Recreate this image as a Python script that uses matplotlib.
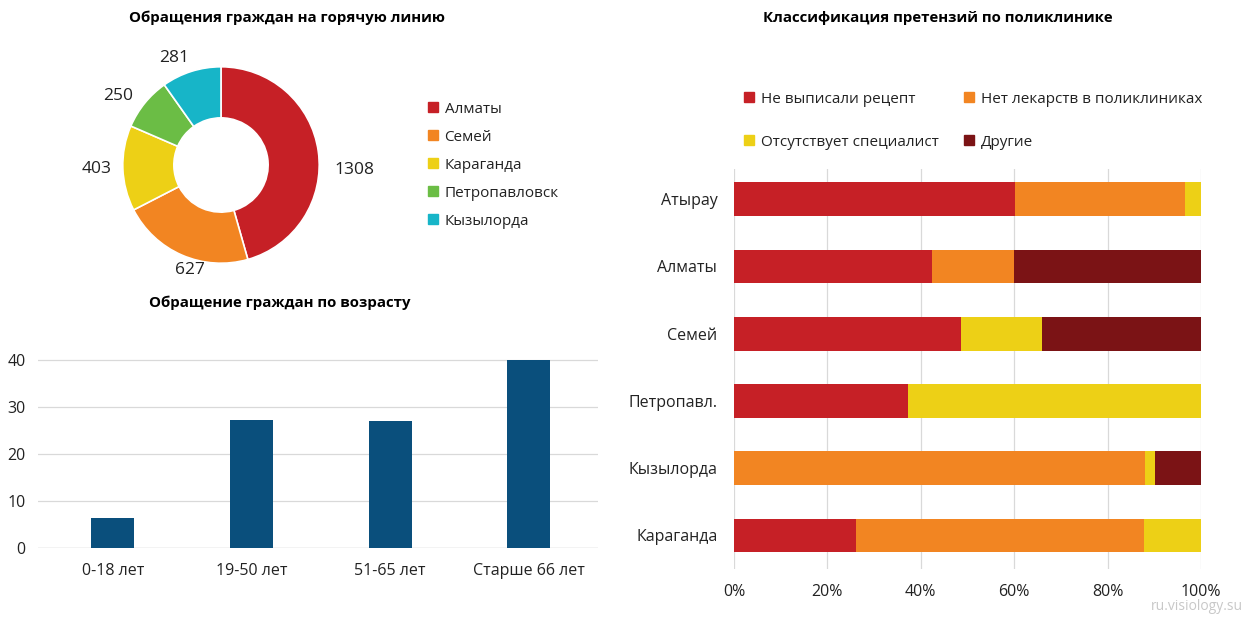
import numpy as np
import matplotlib
matplotlib.use("Agg")
import matplotlib.pyplot as plt
from matplotlib.patches import Patch

plt.rcParams['font.family'] = ['Open Sans', 'DejaVu Sans']

# donut: calls to the hot line
cities = ['Алматы', 'Семей', 'Караганда', 'Петропавловск', 'Кызылорда']
calls = [1308, 627, 403, 250, 281]
city_colors = ['#C62026', '#F28522', '#EDD016', '#6BBD45', '#17B5C8']

# bars: calls by age
ages = ['0-18 лет', '19-50 лет', '51-65 лет', 'Старше 66 лет']
age_values = [6.3, 27.2, 26.9, 40.0]

# stacked: complaint classification (percent)
clinics = ['Атырау', 'Алматы', 'Семей', 'Петропавл.', 'Кызылорда', 'Караганда']
no_recipe = [60.2, 42.4, 48.7, 37.3, 0.0, 26.2]
no_drugs = [36.4, 17.6, 0.0, 0.0, 88.1, 61.6]
no_doctor = [3.4, 0.0, 17.2, 62.7, 2.0, 12.2]
other = [0.0, 40.0, 34.1, 0.0, 9.9, 0.0]
series_names = ['Не выписали рецепт', 'Нет лекарств в поликлиниках',
                'Отсутствует специалист', 'Другие']
series_colors = ['#C62026', '#F28522', '#EDD016', '#7B1315']

W, H = 1248, 617
fig = plt.figure(figsize=(W / 100, H / 100), dpi=100)


def px_axes(x0, y0, x1, y1):
    # pixel box (top-left origin) -> figure axes
    return fig.add_axes([x0 / W, 1 - y1 / H, (x1 - x0) / W, (y1 - y0) / H])


grid_c = '#D9D9D9'
text_c = '#222222'

# ---- donut ----
cx, cy = 221, 165
ax1 = px_axes(cx - 110, cy - 110, cx + 110, cy + 110)
ax1.pie(calls, colors=city_colors, startangle=90, counterclock=False,
        radius=1, wedgeprops=dict(width=0.52, edgecolor='white', linewidth=1.2))
ax1.set_xlim(-1.12, 1.12)
ax1.set_ylim(-1.12, 1.12)
ax1.set_aspect('equal')
ax1.axis('off')

# excel-like "outside end" label placement (angle nudge in degrees, radius)
lbl_nudge = [10, -7, 0, -5, -6]
lbl_r = [1.36, 1.11, 1.27, 1.26, 1.19]
tot = sum(calls)
start = 0
for v, nd, r in zip(calls, lbl_nudge, lbl_r):
    mid = np.radians((start + v / 2) / tot * 360 + nd)
    start += v
    ax1.text(r * np.sin(mid), r * np.cos(mid), str(v), ha='center', va='center',
             fontsize=12.5, color=text_c, clip_on=False)

fig.text(287 / W, 1 - 18 / H, 'Обращения граждан на горячую линию', ha='center', va='center',
         fontsize=10.8, fontweight='bold', color='black')
fig.legend(handles=[Patch(color=c, label=l) for c, l in zip(city_colors, cities)],
           loc='upper left', bbox_to_anchor=(414 / W, 1 - 88 / H), frameon=False,
           fontsize=11, handlelength=0.65, handleheight=0.65, handletextpad=0.45,
           labelspacing=0.85, labelcolor=text_c)

# ---- bar chart ----
ax2 = px_axes(38, 355, 598, 548)
x = np.arange(len(ages))
ax2.bar(x, age_values, width=0.31, color='#0A4F7C', zorder=3)
ax2.set_xlim(-0.54, len(ages) - 0.5)
ax2.set_ylim(0, 41)
ax2.set_yticks([0, 10, 20, 30, 40])
ax2.set_xticks(x)
ax2.set_xticklabels(ages)
ax2.grid(axis='y', color=grid_c, linewidth=0.9, zorder=0)
for s in ax2.spines.values():
    s.set_visible(False)
ax2.axhline(0, color=grid_c, linewidth=1.0, zorder=2)
ax2.tick_params(length=0, labelsize=11.5, colors=text_c)
ax2.tick_params(axis='x', pad=11)
ax2.tick_params(axis='y', pad=9)
fig.text(280 / W, 1 - 303 / H, 'Обращение граждан по возрасту', ha='center', va='center',
         fontsize=10.8, fontweight='bold', color='black')

# ---- stacked bars ----
ax3 = px_axes(734, 169, 1201, 569)
y = np.arange(len(clinics))
left = np.zeros(len(clinics))
handles = []
for vals, name, col in zip([no_recipe, no_drugs, no_doctor, other], series_names, series_colors):
    vals = np.array(vals)
    ax3.barh(y, vals, left=left, height=0.5, color=col, zorder=3, label=name)
    left += vals
    handles.append(Patch(color=col, label=name))
ax3.set_ylim(len(clinics) - 0.5, -0.45)
ax3.set_xlim(0, 100)
ax3.set_yticks(y)
ax3.set_yticklabels(clinics)
ax3.set_xticks([0, 20, 40, 60, 80, 100])
ax3.set_xticklabels(['0%', '20%', '40%', '60%', '80%', '100%'])
ax3.grid(axis='x', color=grid_c, linewidth=0.9, zorder=0)
for s in ax3.spines.values():
    s.set_visible(False)
ax3.tick_params(length=0, labelsize=11.5, colors=text_c)
ax3.tick_params(axis='y', pad=12)
ax3.tick_params(axis='x', pad=11)

fig.text(938 / W, 1 - 18 / H, 'Классификация претензий по поликлинике', ha='center', va='center',
         fontsize=10.8, fontweight='bold', color='black')
order = [0, 2, 1, 3]
fig.legend(handles=[handles[i] for i in order], ncol=2, loc='upper left',
           bbox_to_anchor=(730 / W, 1 - 78 / H), frameon=False, fontsize=11,
           handlelength=0.65, handleheight=0.65, handletextpad=0.45,
           labelspacing=1.82, columnspacing=1.7, labelcolor=text_c)

fig.text(1243 / W, 1 - 606 / H, 'ru.visiology.su', ha='right', va='center',
         fontsize=10, color='#C8C8C8')

fig.savefig('out.png', dpi=100)
